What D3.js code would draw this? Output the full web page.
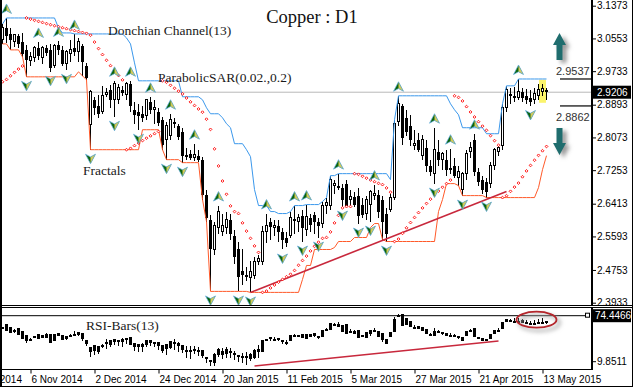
<!DOCTYPE html>
<html>
<head>
<meta charset="utf-8">
<title>Copper : D1</title>
<script src="https://cdn.jsdelivr.net/npm/d3@7/dist/d3.min.js"></script>
<style>
  body { margin: 0; background: #fff; }
  svg { display: block; }
  .note { font-family: "Liberation Serif", "Times New Roman", serif; font-size: 13.5px; fill: #1a1a1a; }
</style>
</head>
<body>
<svg id="chart" width="639" height="389"></svg>
<script>
// daily bars, oldest first
const opens = [3.0516,3.0816,3.0666,3.0466,3.0616,3.0466,3.0266,2.9991,3.0066,3.0316,
  3.0066,3.0316,3.0266,2.9866,3.0391,3.0266,2.9916,3.0166,3.0316,3.0216,
  3.0366,2.9866,2.8391,2.9016,2.8866,2.8716,2.9141,2.9266,2.9016,2.9016,
  2.9266,2.9141,2.9416,2.8766,2.8716,2.8666,2.8616,2.8966,2.8766,2.8716,
  2.8516,2.8016,2.8116,2.8466,2.8366,2.8216,2.7641,2.7666,2.7566,2.7616,
  2.7516,2.6641,2.6016,2.5266,2.5816,2.5716,2.5816,2.6016,2.5616,2.5266,
  2.4716,2.4616,2.4566,2.4616,2.4966,2.4966,2.5716,2.5966,2.5816,2.5866,
  2.5716,2.5566,2.5616,2.6016,2.5966,2.6116,2.5766,2.6066,2.6141,2.5966,
  2.5916,2.6366,2.6366,2.6866,2.6866,2.6816,2.6916,2.6516,2.6591,2.6616,
  2.6391,2.6166,2.6391,2.6616,2.6641,2.6516,2.6166,2.6266,2.6566,2.8466,
  2.8866,2.8566,2.8366,2.7866,2.8016,2.7616,2.7816,2.7366,2.7166,2.7716,
  2.7516,2.7516,2.7316,2.7366,2.7066,2.6766,2.7166,2.7716,2.8016,2.7216,
  2.7016,2.6966,2.6916,2.7366,2.7716,2.7866,2.8816,2.9166,2.9116,2.9066,
  2.9216,2.9116,2.9066,2.9016,2.9116,2.9216,2.9266];
const highs = [3.0916,3.1066,3.0816,3.0666,3.0666,3.0691,3.0391,3.0216,3.0366,3.0466,
  3.0366,3.0391,3.0416,3.0416,3.0491,3.0366,3.0266,3.0516,3.0666,3.0566,
  3.0416,2.9941,2.9266,2.9091,2.9141,2.9366,2.9316,2.9391,2.9491,2.9416,
  2.9366,2.9466,2.9491,2.8966,2.8916,2.8866,2.9041,2.9091,2.9016,2.8816,
  2.8591,2.8466,2.8666,2.8566,2.8416,2.8316,2.7816,2.7766,2.7916,2.7766,
  2.7591,2.6766,2.6141,2.5966,2.6366,2.6166,2.6216,2.6166,2.5766,2.5466,
  2.5266,2.4816,2.4966,2.5066,2.5116,2.5866,2.6166,2.6066,2.6016,2.6016,
  2.5816,2.5716,2.6216,2.6366,2.6166,2.6266,2.6391,2.6166,2.6216,2.6066,
  2.6466,2.6566,2.7116,2.7016,2.7166,2.6916,2.7016,2.6766,2.6716,2.6816,
  2.6566,2.6616,2.6766,2.6891,2.6766,2.6616,2.6316,2.6666,2.8516,2.9116,
  2.8916,2.8766,2.8641,2.8266,2.8191,2.8141,2.8016,2.7516,2.8316,2.8016,
  2.7716,2.7766,2.7791,2.7566,2.7366,2.7216,2.7766,2.7966,2.8166,2.7316,
  2.7116,2.7066,2.7466,2.7816,2.7866,2.8916,2.9366,2.9316,2.9341,2.9537,
  2.9316,2.9291,2.9266,2.9316,2.9416,2.9416,2.9316];
const lows = [3.0416,3.0441,3.0266,3.0341,3.0316,3.0091,2.9591,2.9866,2.9966,3.0016,
  2.9916,3.0116,2.9716,2.9816,3.0141,2.9866,2.9766,2.9966,3.0116,2.9966,
  2.9616,2.9516,2.7766,2.8641,2.8566,2.8666,2.9091,2.8816,2.8591,2.8916,
  2.9116,2.9016,2.8716,2.8416,2.8266,2.8466,2.8516,2.8666,2.8416,2.8366,
  2.7766,2.7516,2.8016,2.8316,2.8016,2.7441,2.7516,2.7516,2.7491,2.7466,
  2.6516,2.5966,2.4216,2.5116,2.5666,2.5616,2.5666,2.5516,2.4891,2.4216,
  2.4366,2.4466,2.4191,2.4516,2.4866,2.4866,2.5416,2.5516,2.5616,2.5466,
  2.5266,2.5316,2.5566,2.5666,2.5716,2.5466,2.5616,2.5716,2.5666,2.5566,
  2.5816,2.6166,2.6266,2.6666,2.6766,2.6341,2.6366,2.6366,2.6341,2.5916,
  2.6066,2.6016,2.5966,2.6516,2.6066,2.5516,2.5466,2.6216,2.6516,2.8366,
  2.7891,2.8116,2.7866,2.7766,2.7716,2.7516,2.7216,2.7116,2.6916,2.7366,
  2.7266,2.7116,2.7166,2.7066,2.6866,2.6616,2.7016,2.7566,2.7116,2.6866,
  2.6666,2.6566,2.6816,2.7266,2.7616,2.7766,2.8716,2.8916,2.8966,2.9016,
  2.8966,2.8916,2.8862,2.8916,2.9016,2.9116,2.9016];
const closes = [3.0816,3.0616,3.0516,3.0641,3.0416,3.0166,3.0016,3.0091,3.0316,3.0116,
  3.0316,3.0191,2.9816,3.0366,3.0266,2.9916,3.0216,3.0266,3.0216,3.0466,
  2.9966,2.9566,2.9216,2.8816,2.8666,2.9116,2.9191,2.9016,2.9416,2.9316,
  2.9191,2.9416,2.8866,2.8641,2.8616,2.8566,2.9016,2.8766,2.8816,2.8441,
  2.7891,2.8366,2.8516,2.8416,2.8091,2.7616,2.7591,2.7566,2.7641,2.7516,
  2.6641,2.6066,2.5266,2.5866,2.6216,2.5866,2.6016,2.5666,2.5066,2.4566,
  2.4616,2.4566,2.4716,2.4966,2.5041,2.5716,2.5866,2.5841,2.5866,2.5716,
  2.5516,2.5416,2.6066,2.6016,2.6066,2.5816,2.6091,2.5891,2.5966,2.5866,
  2.6366,2.6441,2.7016,2.6916,2.6816,2.6516,2.6366,2.6591,2.6391,2.6116,
  2.6141,2.6516,2.6716,2.6666,2.6216,2.5966,2.5666,2.6566,2.8416,2.8916,
  2.8066,2.8216,2.8016,2.7916,2.7766,2.8016,2.7366,2.7216,2.7766,2.7516,
  2.7666,2.7266,2.7266,2.7116,2.7216,2.7166,2.7666,2.7816,2.7216,2.6966,
  2.6766,2.6716,2.7366,2.7766,2.7816,2.8816,2.9266,2.9116,2.9066,2.9216,
  2.9066,2.9016,2.8966,2.9166,2.9266,2.9291,2.9206];

// axis labels
const priceTicks = [3.1373, 3.0553, 2.9733, 2.8893, 2.8073, 2.7253, 2.6413, 2.5593, 2.4753, 2.3933];
const dateLabels = ["15 Oct 2014", "6 Nov 2014", "2 Dec 2014", "24 Dec 2014", "20 Jan 2015",
  "11 Feb 2015", "5 Mar 2015", "27 Mar 2015", "21 Apr 2015", "13 May 2015"];
const dateBars = [-9, 7, 23, 39, 55, 71, 87, 103, 119, 135];

// bars carrying a fractal arrow
const upFractals = [1, 9, 14, 18, 28, 32, 37, 42, 48, 54, 66, 73, 76, 84, 93, 99, 108, 112, 118, 129];
const downFractals = [6, 12, 16, 22, 28, 34, 41, 45, 52, 59, 62, 70, 75, 79, 85, 89, 92, 96, 108, 115, 121, 132];

// indicator settings and state before the first bar
const period = 13;
const sarSeed = [2.9466, 0.04];          // sar, step
const rsiSeed = [0.012, 0.008];          // avg gain, avg loss

// analyst marks
const trendBars = [62, 126];
const trendPrices = [2.4191, 2.6716];
const rsiTrendBars = [63, 124];
const rsiTrendValues = [12.3, 43.2];
const levelValues = [2.9537, 2.8862];
const rsiLabels = [74.4466, 9.8511];
const highlightBar = 135;
const highlightRange = [2.8941, 2.9516];
const ellipseAt = [133.5, 69.5];

const n = closes.length;
const bars = d3.range(n);

// ---- indicators
function donchian(values, pick) {
  return values.map((v, i) => pick(values.slice(Math.max(0, i - period + 1), i + 1)));
}
const upper = donchian(highs, d3.max);
const lower = donchian(lows, d3.min);

function parabolicSar(step, maxStep) {
  let up = true, sar = sarSeed[0], ep = highs[0], af = sarSeed[1];
  const out = [sar];
  for (let i = 1; i < n; i++) {
    sar = sar + af * (ep - sar);
    const j = Math.max(i - 2, 0);
    if (up) {
      sar = Math.min(sar, lows[i - 1], lows[j]);
      if (lows[i] < sar) { up = false; sar = ep; ep = lows[i]; af = step; }
      else if (highs[i] > ep) { ep = highs[i]; af = Math.min(af + step, maxStep); }
    } else {
      sar = Math.max(sar, highs[i - 1], highs[j]);
      if (highs[i] > sar) { up = true; sar = ep; ep = highs[i]; af = step; }
      else if (lows[i] < ep) { ep = lows[i]; af = Math.min(af + step, maxStep); }
    }
    out.push(sar);
  }
  return out;
}
const sar = parabolicSar(0.02, 0.2);

function rsi(values) {
  let gain = rsiSeed[0], loss = rsiSeed[1];
  return values.map((v, i) => {
    if (i > 0) {
      const d = v - values[i - 1];
      gain = (gain * (period - 1) + Math.max(d, 0)) / period;
      loss = (loss * (period - 1) + Math.max(-d, 0)) / period;
    }
    return 100 - 100 / (1 + gain / loss);
  });
}
const rsiO = rsi(opens), rsiH = rsi(highs), rsiL = rsi(lows), rsiC = rsi(closes);

// ---- scales
const x = d3.scaleLinear().domain([0, n - 1]).range([2.5, 546.5]);
const y = d3.scaleLinear().domain([2.3933, 3.1373]).range([302.7, 5.7]);
const yr = d3.scaleLinear().domain([9.8511, 74.4466]).range([368, 315.7]);

const svg = d3.select("#chart");
const defs = svg.append("defs");
defs.append("clipPath").attr("id", "clip-main").append("rect")
  .attr("x", 2).attr("y", 0).attr("width", 590).attr("height", 305);
defs.append("clipPath").attr("id", "clip-rsi").append("rect")
  .attr("x", 2).attr("y", 308).attr("width", 590).attr("height", 61);
defs.append("clipPath").attr("id", "clip-time").append("rect")
  .attr("x", 2).attr("y", 369).attr("width", 630).attr("height", 17);
defs.append("filter").attr("id", "soft").attr("x", "-50%").attr("y", "-50%")
  .attr("width", "200%").attr("height", "200%")
  .append("feGaussianBlur").attr("stdDeviation", 2);

svg.append("rect").attr("width", 639).attr("height", 389).attr("fill", "#fff");

const main = svg.append("g").attr("clip-path", "url(#clip-main)");

// current price line
main.append("line")
  .attr("x1", 0).attr("x2", 592)
  .attr("y1", y(closes[n - 1])).attr("y2", y(closes[n - 1]))
  .attr("stroke", "#b8b8b8");

// highlighted last-but-one bar
main.append("rect")
  .attr("x", x(highlightBar) - 3.5).attr("width", 7)
  .attr("y", y(highlightRange[1])).attr("height", y(highlightRange[0]) - y(highlightRange[1]))
  .attr("fill", "#fbf46c");

// candles
const candles = main.append("g").attr("shape-rendering", "crispEdges");
candles.selectAll("line").data(bars).join("line")
  .attr("x1", i => x(i)).attr("x2", i => x(i))
  .attr("y1", i => y(highs[i])).attr("y2", i => y(lows[i]))
  .attr("stroke", "#000");
candles.selectAll("rect").data(bars).join("rect")
  .attr("x", i => closes[i] >= opens[i] ? x(i) - 1 : x(i) - 1.5)
  .attr("width", i => closes[i] >= opens[i] ? 2 : 3)
  .attr("y", i => y(Math.max(opens[i], closes[i])))
  .attr("height", i => Math.max(1, Math.abs(y(opens[i]) - y(closes[i]))))
  .attr("fill", i => closes[i] >= opens[i] ? "#fff" : "#000")
  .attr("stroke", i => closes[i] >= opens[i] ? "#000" : "none");

// Donchian channel
const line = d3.line().x((d, i) => x(i)).y(d => y(d));
main.append("path").attr("d", line(upper)).attr("fill", "none").attr("stroke", "#3b98ec");
main.append("path").attr("d", line(lower)).attr("fill", "none").attr("stroke", "#ff5a2a");

// trend line
main.append("line")
  .attr("x1", x(trendBars[0])).attr("y1", y(trendPrices[0]))
  .attr("x2", x(trendBars[1])).attr("y2", y(trendPrices[1]))
  .attr("stroke", "#c8283c").attr("stroke-width", 1.6);

// parabolic SAR
main.selectAll("path.sar").data(bars).join("path").attr("class", "sar")
  .attr("d", "M0,-1.4L1.4,0L0,1.4L-1.4,0Z")
  .attr("transform", i => `translate(${x(i)},${y(sar[i])})`)
  .attr("fill", "#fff").attr("stroke", "#f00").attr("stroke-width", 0.9);

// fractals
const fractals = upFractals.map(i => ({ i, up: true }))
  .concat(downFractals.map(i => ({ i, up: false })));
const fg = main.selectAll("g.fractal").data(fractals).join("g").attr("class", "fractal")
  .attr("transform", d => d.up
    ? `translate(${x(d.i)},${y(highs[d.i]) - 9})`
    : `translate(${x(d.i)},${y(lows[d.i]) + 9}) scale(1,-1)`);
fg.append("path").attr("d", "M0,-5L5,4.5L0,1.8L-5,4.5Z").attr("fill", "#0d650d");
fg.append("path").attr("d", "M0,-5L5,4.5L0,1.8Z").attr("fill", "#d2c95a");
fg.append("path").attr("d", "M0,-5L5,4.5L0,1.8L-5,4.5Z")
  .attr("fill", "none").attr("stroke", "#62aee6").attr("stroke-width", 0.7);

// labels on the chart
svg.append("text").attr("x", 312).attr("y", 23).attr("text-anchor", "middle")
  .attr("font-family", "Liberation Serif, serif").attr("font-size", 18.5).attr("fill", "#111")
  .text("Copper : D1");
svg.append("text").attr("class", "note").attr("x", 108).attr("y", 35).text("Donchian Channel(13)");
svg.append("text").attr("class", "note").attr("x", 158).attr("y", 81.5).text("ParabolicSAR(0.02.,0.2)");
svg.append("text").attr("class", "note").attr("x", 83).attr("y", 175).text("Fractals");
svg.append("text").attr("class", "note").attr("x", 86).attr("y", 330).text("RSI-Bars(13)");

// levels and arrows at the right
levelValues.forEach((v, k) => {
  svg.append("line").attr("x1", 560).attr("x2", 591)
    .attr("y1", y(v)).attr("y2", y(v)).attr("stroke", "#000").attr("stroke-width", 1.2);
  svg.append("text").attr("x", 556).attr("y", k === 0 ? y(v) - 3.5 : y(v) + 15)
    .attr("font-family", "Liberation Sans, Arial, sans-serif").attr("font-size", 11)
    .attr("fill", "#333").text(v.toFixed(4));
});
const arrowUp = "M0,0L6.5,12L3,12L3,27L-3,27L-3,12L-6.5,12Z";
const arrowDown = "M0,0L6.5,-12L3,-12L3,-27L-3,-27L-3,-12L-6.5,-12Z";
[[arrowUp, y(levelValues[0]) - 46], [arrowDown, y(levelValues[1]) + 49]].forEach(([d, ty]) => {
  const g = svg.append("g").attr("transform", `translate(559.5,${ty})`);
  g.append("path").attr("d", d).attr("transform", "translate(4,3)")
    .attr("fill", "#9a9a9a").attr("filter", "url(#soft)");
  g.append("path").attr("d", d).attr("fill", "#1f6d6e");
});

// ---- RSI bars
const rsiG = svg.append("g").attr("clip-path", "url(#clip-rsi)");
rsiG.append("line").attr("x1", 0).attr("x2", 586)
  .attr("y1", yr(rsiLabels[0])).attr("y2", yr(rsiLabels[0])).attr("stroke", "#000");
rsiG.append("line")
  .attr("x1", x(rsiTrendBars[0])).attr("y1", yr(rsiTrendValues[0]))
  .attr("x2", x(rsiTrendBars[1])).attr("y2", yr(rsiTrendValues[1]))
  .attr("stroke", "#c8283c").attr("stroke-width", 1.4);
const rb = rsiG.append("g").attr("shape-rendering", "crispEdges");
rb.selectAll("line").data(bars).join("line")
  .attr("x1", i => x(i)).attr("x2", i => x(i))
  .attr("y1", i => yr(Math.max(rsiO[i], rsiH[i], rsiL[i], rsiC[i])))
  .attr("y2", i => yr(Math.min(rsiO[i], rsiH[i], rsiL[i], rsiC[i])))
  .attr("stroke", "#000");
rb.selectAll("rect").data(bars).join("rect")
  .attr("x", i => x(i) - 1.5).attr("width", 3)
  .attr("y", i => yr(Math.max(rsiO[i], rsiC[i])))
  .attr("height", i => Math.max(2, Math.abs(yr(rsiO[i]) - yr(rsiC[i]))))
  .attr("fill", "#000");
// ellipse mark
const ex = x(ellipseAt[0]), ey = yr(ellipseAt[1]);
rsiG.append("ellipse").attr("cx", ex + 3).attr("cy", ey + 3).attr("rx", 20).attr("ry", 8)
  .attr("fill", "none").attr("stroke", "#aaa").attr("stroke-width", 2.5).attr("filter", "url(#soft)");
rsiG.append("ellipse").attr("cx", ex).attr("cy", ey).attr("rx", 20).attr("ry", 8)
  .attr("fill", "none").attr("stroke", "#b4262c").attr("stroke-width", 1.8);
svg.append("rect").attr("x", 585.5).attr("y", yr(rsiLabels[0]) - 2.5).attr("width", 4).attr("height", 4)
  .attr("fill", "#fff").attr("stroke", "#000");

// ---- frames and axes
const frame = svg.append("g").attr("stroke", "#000").attr("shape-rendering", "crispEdges");
frame.append("line").attr("x1", 1).attr("x2", 1).attr("y1", 0).attr("y2", 387).attr("stroke-width", 2);
frame.append("line").attr("x1", 0).attr("x2", 633).attr("y1", 305.5).attr("y2", 305.5);
frame.append("line").attr("x1", 0).attr("x2", 633).attr("y1", 307.5).attr("y2", 307.5);
frame.append("line").attr("x1", 0).attr("x2", 592).attr("y1", 369.5).attr("y2", 369.5);
frame.append("line").attr("x1", 0).attr("x2", 633).attr("y1", 386.5).attr("y2", 386.5);
frame.append("line").attr("x1", 632.5).attr("x2", 632.5).attr("y1", 0).attr("y2", 387);
frame.append("line").attr("x1", 592).attr("x2", 592).attr("y1", 0).attr("y2", 305).attr("stroke-width", 2);
frame.append("line").attr("x1", 592).attr("x2", 592).attr("y1", 308).attr("y2", 370).attr("stroke-width", 2);

const font = "Liberation Sans, Arial, sans-serif";
const priceAxis = d3.axisRight(y).tickValues(priceTicks).tickFormat(d3.format(".4f"))
  .tickSize(4).tickSizeOuter(0).tickPadding(1);
const gy = svg.append("g").attr("transform", "translate(592,0)").call(priceAxis)
  .attr("font-family", font).attr("font-size", 10);
gy.select(".domain").remove();

// price and RSI value labels on the right
const last = closes[n - 1];
svg.append("rect").attr("x", 593).attr("y", y(last) - 6.5).attr("width", 38).attr("height", 13).attr("fill", "#000");
svg.append("text").attr("x", 597).attr("y", y(last)).attr("dy", "0.35em")
  .attr("font-family", font).attr("font-size", 10).attr("fill", "#fff").text(last.toFixed(4));
svg.append("rect").attr("x", 593).attr("y", yr(rsiLabels[0]) - 6.5).attr("width", 38).attr("height", 13).attr("fill", "#000");
svg.append("text").attr("x", 595).attr("y", yr(rsiLabels[0])).attr("dy", "0.35em")
  .attr("font-family", font).attr("font-size", 10).attr("fill", "#fff").text(rsiLabels[0].toFixed(4));
svg.append("line").attr("x1", 592).attr("x2", 596)
  .attr("y1", yr(rsiLabels[1]) - 6.3).attr("y2", yr(rsiLabels[1]) - 6.3).attr("stroke", "#000");
svg.append("text").attr("x", 597).attr("y", yr(rsiLabels[1]) - 6.3).attr("dy", "0.35em")
  .attr("font-family", font).attr("font-size", 10).text(rsiLabels[1].toFixed(4));

const timeAxis = d3.axisBottom(x).tickValues(dateBars).tickFormat((d, i) => dateLabels[i])
  .tickSize(4).tickSizeOuter(0).tickPadding(2);
const gx = svg.append("g").attr("clip-path", "url(#clip-time)")
  .append("g").attr("transform", "translate(0,369.5)").call(timeAxis)
  .attr("font-family", font).attr("font-size", 10);
gx.select(".domain").remove();
gx.selectAll(".tick text").attr("text-anchor", "start").attr("x", 0.5);
</script>
</body>
</html>
